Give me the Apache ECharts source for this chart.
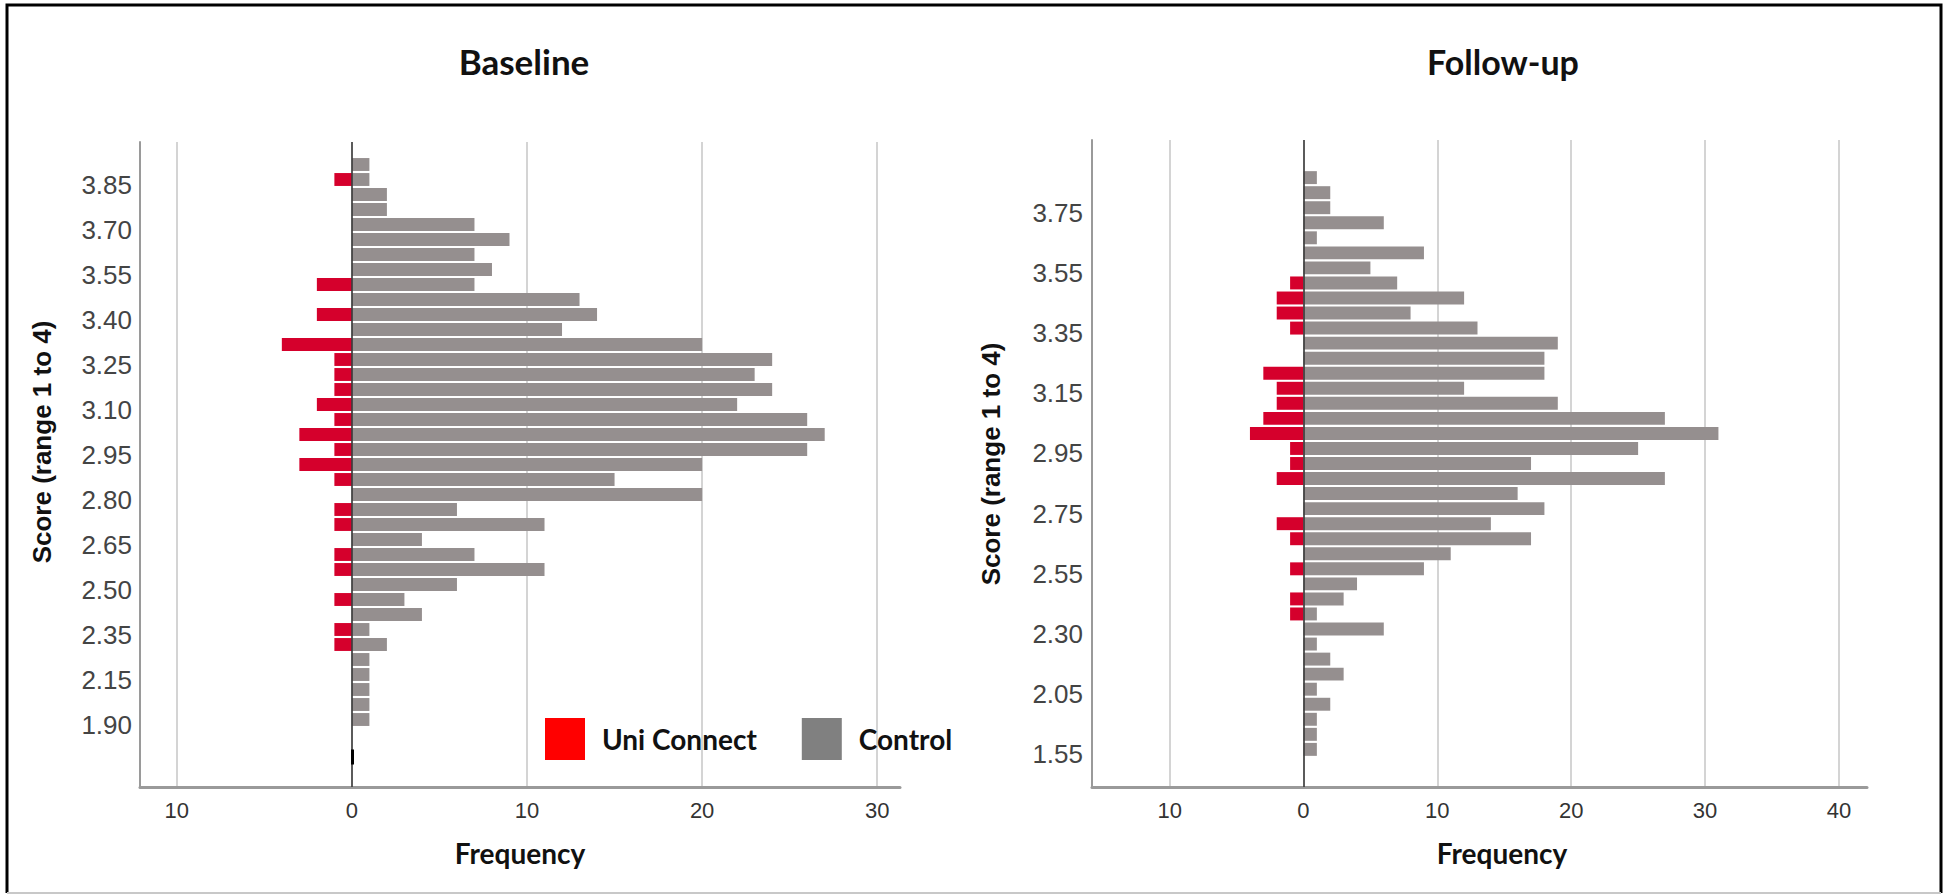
<!DOCTYPE html>
<html>
<head>
<meta charset="utf-8">
<script src="https://cdn.jsdelivr.net/npm/echarts@6/dist/echarts.min.js"></script>
<style>
html,body{margin:0;padding:0;background:#fff;}
#chart{width:1948px;height:896px;}
</style>
</head>
<body>
<div id="chart"></div>
<script>
// ---------- Baseline ----------
var baselineCategories = ['3.95',
  '3.90','3.85','3.80','3.75','3.70','3.65','3.60','3.55','3.50','3.45',
  '3.40','3.35','3.30','3.25','3.20','3.15','3.10','3.05','3.00','2.95',
  '2.90','2.85','2.80','2.75','2.70','2.65','2.60','2.55','2.50','2.45',
  '2.40','2.35','2.30','2.20','2.15','2.05','2.00','1.90',
  '1.85','1.80','1.75','1.70'];
var baselineTickLabels = ['3.85','3.70','3.55','3.40','3.25','3.10','2.95','2.80','2.65','2.50','2.35','2.15','1.90'];
var baselineControl = [null,
  1,1,2,2,7,9,7,8,7,13,
  14,12,20,24,23,24,22,26,27,26,
  20,15,20,6,11,4,7,11,6,3,
  4,1,2,1,1,1,1,1,
  null,null,null,null];
var baselineUniConnect = [null,
  0,1,0,0,0,0,0,0,2,0,
  2,0,4,1,1,1,2,1,3,1,
  3,1,0,1,1,0,1,1,0,1,
  0,1,1,0,0,0,0,0,
  null,null,null,null];
var baselineFreqTicks = [-10,0,10,20,30];
var baselineZeroMark = ['1.80','1.75'];

// ---------- Follow-up ----------
var followCategories = ['3.95','3.90',
  '3.85','3.80','3.75','3.70','3.65','3.60','3.55','3.50','3.45','3.40',
  '3.35','3.30','3.25','3.20','3.15','3.10','3.05','3.00','2.95','2.90',
  '2.85','2.80','2.75','2.70','2.65','2.60','2.55','2.45','2.40','2.35',
  '2.30','2.25','2.20','2.10','2.05','1.95','1.80','1.70','1.55',
  '1.50','1.45'];
var followTickLabels = ['3.75','3.55','3.35','3.15','2.95','2.75','2.55','2.30','2.05','1.55'];
var followControl = [null,null,
  1,2,2,6,1,9,5,7,12,8,
  13,19,18,18,12,19,27,31,25,17,
  27,16,18,14,17,11,9,4,3,1,
  6,1,2,3,1,2,1,1,1,
  null,null];
var followUniConnect = [null,null,
  0,0,0,0,0,0,0,1,2,2,
  1,0,0,3,2,2,3,4,1,1,
  2,0,0,2,1,0,1,0,1,1,
  0,0,0,0,0,0,0,0,0,
  null,null];
var followFreqTicks = [-10,0,10,20,30,40];

var seriesNames = ['Uni Connect','Control'];

function neg(arr){ return arr.map(function(v){ return v == null ? null : -v; }); }

var chart = echarts.init(document.getElementById('chart'), null, {renderer:'svg'});

var tickFont = 'Liberation Sans, Arial, sans-serif';
var boldFont = 'Lato, Open Sans, sans-serif';
var redColor = '#d5002c';
var grayColor = '#958f8f';

function xAxisCfg(gi, min, max, ticks, namePad){
  return {
    gridIndex: gi, type: 'value', min: min, max: max,
    axisLine: {show: true, onZero: false, lineStyle: {color: '#9a9a9a', width: 3}},
    axisTick: {show: false, customValues: ticks},
    axisLabel: {customValues: ticks, formatter: function(v){ return String(Math.abs(v)); },
      fontSize: 22, color: '#333', margin: 12, fontFamily: tickFont},
    splitLine: {show: true, lineStyle: {color: '#c6c6c6', width: 1.5}},
    name: 'Frequency', nameLocation: 'middle', nameGap: 52,
    nameTextStyle: {fontFamily: boldFont, fontWeight: 'bold', fontSize: 28, color: '#111', padding: namePad}
  };
}
function yAxisCfg(gi, cats, ticks, lh, margin){
  return {
    gridIndex: gi, type: 'category', inverse: true, data: cats,
    axisLine: {show: true, onZero: false, lineStyle: {color: '#9a9a9a', width: 2}},
    axisTick: {show: false},
    axisLabel: {interval: 0, margin: margin, fontSize: 26, color: '#444', fontFamily: tickFont,
      verticalAlign: 'top', lineHeight: lh,
      formatter: function(v){ return ticks.indexOf(v) >= 0 ? v : ''; }},
    splitLine: {show: false}
  };
}
function zeroLine(extra){
  var d = [{xAxis: 0}];
  if (extra) d.push([{coord: [0, extra[0]], lineStyle: {color: '#000', width: 3}}, {coord: [0, extra[1]]}]);
  return {silent: true, symbol: ['none','none'], label: {show: false},
    lineStyle: {color: '#333', width: 1.5, type: 'solid'}, data: d};
}

chart.setOption({
  animation: false,
  backgroundColor: '#fff',
  grid: [
    {left: 140, right: 1048, top: 142, bottom: 109, containLabel: false},
    {left: 1092, right: 81, top: 140, bottom: 109, containLabel: false}
  ],
  xAxis: [
    xAxisCfg(0, -12.1, 31.3, baselineFreqTicks, [0,0,0,0]),
    xAxisCfg(1, -15.8, 42.1, followFreqTicks, [0,0,0,45])
  ],
  yAxis: [
    yAxisCfg(0, baselineCategories, baselineTickLabels, 11, 8),
    yAxisCfg(1, followCategories, followTickLabels, 10, 9)
  ],
  legend: {
    left: 540, top: 713, orient: 'horizontal',
    itemWidth: 40, itemHeight: 42, itemGap: 45, icon: 'rect',
    textStyle: {fontFamily: boldFont, fontWeight: 'bold', fontSize: 28, color: '#111', padding: [0,0,0,12]},
    data: [
      {name: seriesNames[0], itemStyle: {color: '#ff0000'}},
      {name: seriesNames[1], itemStyle: {color: '#808080'}}
    ]
  },
  series: [
    {name: seriesNames[0], type: 'bar', xAxisIndex: 0, yAxisIndex: 0, stack: 'b',
     data: neg(baselineUniConnect), itemStyle: {color: redColor}, barCategoryGap: '14%'},
    {name: seriesNames[1], type: 'bar', xAxisIndex: 0, yAxisIndex: 0, stack: 'b',
     data: baselineControl, itemStyle: {color: grayColor}, barCategoryGap: '14%', markLine: zeroLine(baselineZeroMark)},
    {name: seriesNames[0], type: 'bar', xAxisIndex: 1, yAxisIndex: 1, stack: 'f',
     data: neg(followUniConnect), itemStyle: {color: redColor}, barCategoryGap: '14%'},
    {name: seriesNames[1], type: 'bar', xAxisIndex: 1, yAxisIndex: 1, stack: 'f',
     data: followControl, itemStyle: {color: grayColor}, barCategoryGap: '14%', markLine: zeroLine(null)}
  ],
  graphic: [
    {type: 'polyline', silent: true, shape: {points: [[7,893],[7,5],[1941,5],[1941,893]]},
     style: {stroke: '#000', lineWidth: 3, fill: null}},
    {type: 'line', silent: true, shape: {x1: 7, y1: 893, x2: 1941, y2: 893},
     style: {stroke: '#c8c8c8', lineWidth: 2}},
    {type: 'text', x: 524, y: 61, silent: true,
     style: {text: 'Baseline', fontFamily: boldFont, fontWeight: 'bold', fontSize: 35, fill: '#111',
       textAlign: 'center', textVerticalAlign: 'middle'}},
    {type: 'text', x: 1503, y: 61, silent: true,
     style: {text: 'Follow-up', fontFamily: boldFont, fontWeight: 'bold', fontSize: 34, fill: '#111',
       textAlign: 'center', textVerticalAlign: 'middle'}},
    {type: 'text', x: 42, y: 442, rotation: Math.PI / 2, silent: true,
     style: {text: 'Score (range 1 to 4)', fontFamily: tickFont, fontWeight: 'bold', fontSize: 26, fill: '#111',
       textAlign: 'center', textVerticalAlign: 'middle'}},
    {type: 'text', x: 991, y: 464, rotation: Math.PI / 2, silent: true,
     style: {text: 'Score (range 1 to 4)', fontFamily: tickFont, fontWeight: 'bold', fontSize: 26, fill: '#111',
       textAlign: 'center', textVerticalAlign: 'middle'}}
  ]
});
</script>
</body>
</html>
